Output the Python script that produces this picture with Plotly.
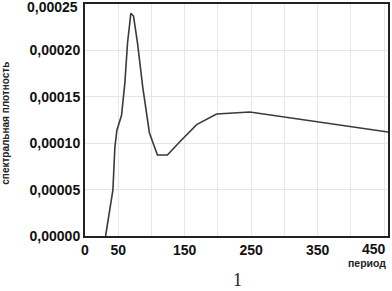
import plotly.graph_objects as go

period = [31, 42, 45, 48, 55, 60, 64, 69, 73, 79, 87, 97, 109, 124, 142, 168, 198, 248, 456]
density = [0.0, 0.0000496, 0.0000960, 0.000114, 0.000130, 0.000165, 0.000208, 0.000240,
           0.000237, 0.000208, 0.000160, 0.000111, 0.0000873, 0.0000873, 0.000101,
           0.000120, 0.0001315, 0.0001336, 0.000112]

x_tickvals = [0, 50, 100, 150, 200, 250, 300, 350, 400, 450]
x_ticktext = ["0", "50", "", "150", "", "250", "", "350", "", ""]
y_tickvals = [0, 0.00005, 0.0001, 0.00015, 0.0002, 0.00025]
y_ticktext = ["0,00000", "0,00005", "0,00010", "0,00015", "0,00020", ""]

fig = go.Figure()
fig.add_trace(go.Scatter(x=period, y=density, mode="lines",
                         line=dict(color="#3a3a3a", width=1.6), showlegend=False))

tickfont = dict(family="Liberation Sans, Arial", size=14, color="#111", weight="bold")
fig.update_layout(
    width=392, height=291,
    margin=dict(l=85, r=2, t=4, b=55),
    paper_bgcolor="white", plot_bgcolor="white",
    separators=", ",
    xaxis=dict(range=[0, 456], tickvals=x_tickvals, ticktext=x_ticktext,
               showgrid=True, gridcolor="#e6e6e6", gridwidth=1,
               showline=True, linecolor="#222", linewidth=2, mirror=True,
               ticks="", tickfont=tickfont, zeroline=False),
    yaxis=dict(range=[0, 0.00025], tickvals=y_tickvals, ticktext=y_ticktext,
               showgrid=True, gridcolor="#e6e6e6", gridwidth=1,
               showline=True, linecolor="#222", linewidth=2, mirror=True,
               ticks="", tickfont=tickfont, zeroline=False),
    annotations=[
        dict(text="0,00025", xref="paper", yref="paper", x=-0.016, y=0.987,
             xanchor="right", yanchor="middle", showarrow=False,
             font=tickfont),
        dict(text="450", xref="paper", yref="paper", x=1.0, y=-0.015,
             xanchor="right", yanchor="top", showarrow=False,
             font=tickfont),
        dict(text="спектральная плотность", textangle=-90, xref="paper", yref="paper",
             x=-0.265, y=0.487, xanchor="center", yanchor="middle", showarrow=False,
             font=dict(family="Liberation Sans, Arial", size=10, color="#222", weight="bold")),
        dict(text="период", xref="paper", yref="paper", x=1.0, y=-0.116,
             xanchor="right", yanchor="middle", showarrow=False,
             font=dict(family="Liberation Sans, Arial", size=10.5, color="#222", weight="bold")),
        dict(text="1", xref="paper", yref="paper", x=0.502, y=-0.19,
             xanchor="center", yanchor="middle", showarrow=False,
             font=dict(family="Liberation Serif, Times New Roman", size=18, color="#222")),
    ],
)
fig.write_html("out.html", config={"displayModeBar": False},
               post_script="document.body.style.margin='0';document.body.style.overflow='hidden';")
